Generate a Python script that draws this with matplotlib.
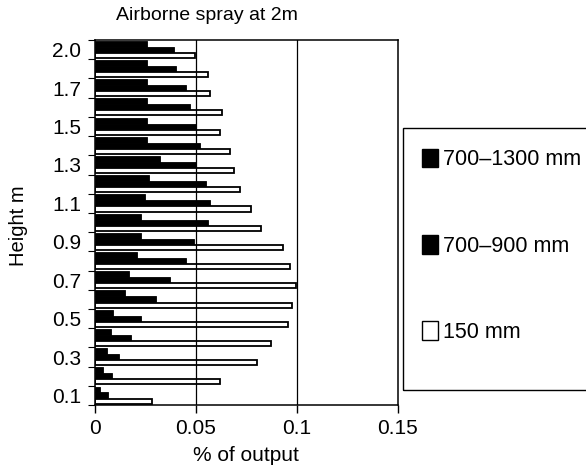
import matplotlib
matplotlib.use("Agg")
import matplotlib.pyplot as plt
import numpy as np
from matplotlib.patches import Patch, Rectangle

plt.rcParams["font.family"] = ["Liberation Sans", "DejaVu Sans"]

# heights (m), bottom to top
heights = ["0.1", "0.2", "0.3", "0.4", "0.5", "0.6", "0.7", "0.8", "0.9", "1.0",
           "1.1", "1.2", "1.3", "1.4", "1.5", "1.6", "1.7", "1.8", "2.0"]
shown_labels = ["0.1", "0.3", "0.5", "0.7", "0.9", "1.1", "1.3", "1.5", "1.7", "2.0"]

# % of output, per droplet-size band
band_700_1300 = [0.0025, 0.004, 0.006, 0.008, 0.009, 0.015, 0.017, 0.021, 0.023, 0.023,
                 0.025, 0.027, 0.032, 0.026, 0.026, 0.026, 0.026, 0.026, 0.026]
band_700_900 = [0.0065, 0.0085, 0.012, 0.018, 0.023, 0.030, 0.037, 0.045, 0.049, 0.056,
                0.057, 0.055, 0.050, 0.052, 0.050, 0.047, 0.045, 0.040, 0.039]
band_150 = [0.0285, 0.062, 0.080, 0.087, 0.0955, 0.0975, 0.0995, 0.0965, 0.093, 0.082,
            0.0775, 0.072, 0.069, 0.067, 0.062, 0.063, 0.057, 0.056, 0.0495]

fig = plt.figure(figsize=(5.86, 4.71), dpi=100)
ax = fig.add_axes([0.162, 0.140, 0.517, 0.775])

y = np.arange(len(heights))
h = 0.31
ax.barh(y + h, band_700_1300, height=h, color="black", edgecolor="black", lw=0.6, zorder=2)
ax.barh(y, band_700_900, height=h, color="black", edgecolor="black", lw=0.6, zorder=2)
ax.barh(y - h * 0.95, band_150, height=h * 0.85, color="white", edgecolor="black", lw=1.3, zorder=2)

for xv in [0.05, 0.1]:
    ax.axvline(xv, color="black", lw=0.9, zorder=3)

ax.set_xlim(0, 0.15)
ax.set_ylim(-0.5, len(heights) - 0.5)
ax.set_xticks([0, 0.05, 0.1, 0.15])
ax.set_xticklabels(["0", "0.05", "0.1", "0.15"], fontsize=15)
ax.tick_params(axis="x", direction="out", length=6, width=1, pad=4)

pos = [heights.index(l) for l in shown_labels]
ax.set_yticks(pos)
ax.set_yticklabels(shown_labels, fontsize=15)
ax.set_yticks(np.arange(len(heights) + 1) - 0.5, minor=True)
ax.tick_params(axis="y", which="major", length=0, pad=10)
ax.tick_params(axis="y", which="minor", direction="out", length=5, width=0.8)

for s in ax.spines.values():
    s.set_linewidth(1.1)

ax.set_xlabel("% of output", fontsize=15, labelpad=6)
fig.text(0.031, 0.52, "Height m", rotation=90, fontsize=14.5, ha="center", va="center")
fig.text(0.353, 0.968, "Airborne spray at 2m", fontsize=14, ha="center", va="center")

handles = [Patch(facecolor="black", edgecolor="black"),
           Patch(facecolor="black", edgecolor="black"),
           Patch(facecolor="white", edgecolor="black")]
labels = ["700\u20131300 mm", "700\u2013900 mm", "150 mm"]
fig.legend(handles, labels, loc="upper left", bbox_to_anchor=(0.701, 0.707),
           frameon=False, fontsize=15.5, handlelength=0.75, handleheight=0.95,
           handletextpad=0.25, labelspacing=3.0, borderpad=0)
fig.add_artist(Rectangle((403 / 586, 1 - 390 / 471), 0.4, (390 - 128) / 471,
                         transform=fig.transFigure, fill=False, lw=1, color="black"))

fig.savefig("out.png", dpi=100)
